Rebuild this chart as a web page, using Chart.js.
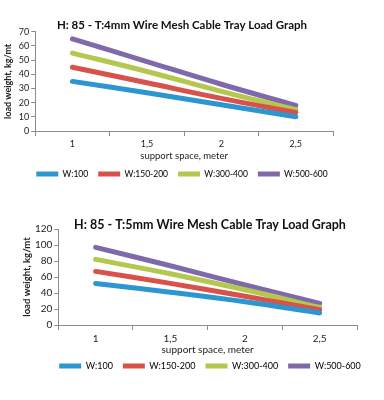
<!DOCTYPE html>
<html>
<head>
<meta charset="utf-8">
<script src="https://cdn.jsdelivr.net/npm/chart.js@4.4.1/dist/chart.umd.min.js"></script>
<style>
  body { margin: 0; background: #fff; width: 384px; height: 400px; overflow: hidden; position: relative; }
  .box { position: absolute; left: 0; }
  #top { top: 0; width: 384px; height: 195px; }
  #bottom { top: 200px; width: 420px; height: 190px; }
</style>
</head>
<body>
<div class="box" id="top"><canvas id="chartTop"></canvas></div>
<div class="box" id="bottom"><canvas id="chartBottom"></canvas></div>
<script>
// support space labels
const spans = ['1', '1,5', '2', '2,5'];
const seriesNames = ['W:100', 'W:150-200', 'W:300-400', 'W:500-600'];
const seriesColors = ['#2c96d1', '#d9514b', '#b4c74f', '#8069ab'];

// T:4mm
const t4w100 = [35, 27, 18.5, 10];
const t4w150 = [45, 34, 23, 13];
const t4w300 = [55, 42, 28, 15];
const t4w500 = [65, 49, 33, 18];
const t4Ticks = [0, 10, 20, 30, 40, 50, 60, 70];

// T:5mm
const t5w100 = [52, 41, 29, 15];
const t5w150 = [67, 52, 36, 19];
const t5w300 = [82, 64, 44, 22];
const t5w500 = [97, 74, 50, 27];
const t5Ticks = [0, 20, 40, 60, 80, 100, 120];

const font = 'Lato, "Open Sans", sans-serif';

function makeChart(id, title, series, ticks, o) {
    const ctx = document.getElementById(id).getContext('2d');
    return new Chart(ctx, {
        type: 'line',
        data: {
            labels: spans,
            datasets: series.map((vals, i) => ({
                label: seriesNames[i],
                data: vals,
                borderColor: seriesColors[i],
                backgroundColor: seriesColors[i],
                borderWidth: 5,
                pointRadius: 0,
                tension: 0.4,
                borderCapStyle: 'round',
                fill: false
            }))
        },
        options: {
            responsive: true,
            maintainAspectRatio: false,
            animation: false,
            layout: { padding: o.pad },
            scales: {
                x: {
                    offset: true,
                    grid: { offset: true, drawOnChartArea: false, tickLength: 5, color: '#8c8c8c' },
                    border: { color: '#8c8c8c' },
                    ticks: { color: '#222', font: { family: font, size: o.tick }, padding: 3 },
                    title: {
                        display: true, text: 'support space, meter', color: '#222',
                        font: { family: font, size: o.axis }, padding: o.xtitlePad
                    }
                },
                y: {
                    min: ticks[0], max: ticks[ticks.length - 1],
                    grid: { drawOnChartArea: false, tickLength: 4, color: '#8c8c8c' },
                    border: { color: '#8c8c8c' },
                    afterBuildTicks: s => { s.ticks = ticks.map(v => ({ value: v })); },
                    ticks: { autoSkip: false, color: '#222', font: { family: font, size: o.tick }, padding: 2 },
                    title: {
                        display: true, text: 'load weight, kg/mt', color: '#222',
                        font: { family: font, size: o.ytitle, weight: 'bold' }, padding: { top: 0, bottom: o.ygap }
                    }
                },
                // empty space right of the plot, like the original
                spacer: {
                    position: 'right',
                    display: true,
                    grid: { display: false },
                    border: { display: false },
                    ticks: { display: false },
                    afterFit: s => { s.width = o.spacer; }
                }
            },
            plugins: {
                title: {
                    display: true, text: title, color: '#111',
                    font: { family: font, size: o.title, weight: 'bold' },
                    padding: o.titlePad
                },
                legend: {
                    position: 'bottom',
                    labels: {
                        boxWidth: 22, boxHeight: 5, color: '#333',
                        font: { family: font, size: o.legend }, padding: 10,
                        generateLabels: chart => chart.data.datasets.map((ds, i) => ({
                            text: ds.label,
                            fillStyle: ds.borderColor,
                            strokeStyle: ds.borderColor,
                            lineWidth: 0,
                            datasetIndex: i
                        }))
                    }
                },
                tooltip: { enabled: false }
            }
        }
    });
}

makeChart('chartTop', 'H: 85 - T:4mm Wire Mesh Cable Tray Load Graph',
    [t4w100, t4w150, t4w300, t4w500], t4Ticks,
    { pad: { left: 3, right: 23, top: 18, bottom: 6.75 }, spacer: 28,
      title: 11.5, titlePad: { top: 0, bottom: 0 },
      tick: 9, axis: 9.5, xtitlePad: { top: -2.45, bottom: -2 },
      ytitle: 9, ygap: 3, legend: 8.5 });

makeChart('chartBottom', 'H: 85 - T:5mm Wire Mesh Cable Tray Load Graph',
    [t5w100, t5w150, t5w300, t5w500], t5Ticks,
    { pad: { left: 21.5, right: 21.5, top: 15, bottom: 9.5 }, spacer: 41.5,
      title: 12.5, titlePad: { top: 2, bottom: -3 },
      tick: 10, axis: 10, xtitlePad: { top: -4, bottom: -4.5 },
      ytitle: 9.5, ygap: 0, legend: 9 });
</script>
</body>
</html>
